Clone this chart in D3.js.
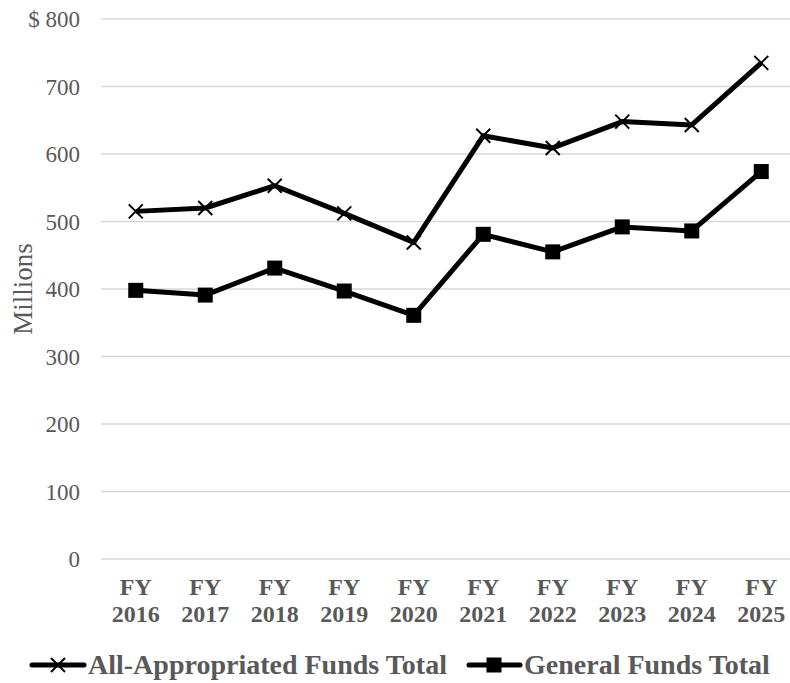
<!DOCTYPE html>
<html>
<head>
<meta charset="utf-8">
<script src="https://cdn.jsdelivr.net/npm/d3@7"></script>
<style>
body { margin: 0; background: #fff; }
text { font-family: "Liberation Serif", "Times New Roman", serif; }
</style>
</head>
<body>
<div id="chart"></div>
<script>
// chart data
var years = ["2016", "2017", "2018", "2019", "2020", "2021", "2022", "2023", "2024", "2025"];
var allFunds = [515, 520, 553, 512, 469, 627, 609, 648, 643, 735];
var generalFunds = [398, 391, 431, 397, 361, 481, 455, 492, 486, 574];
var yTicks = [0, 100, 200, 300, 400, 500, 600, 700, 800];

var width = 790, height = 683;
var plotLeft = 101, plotRight = 796, plotTop = 19, plotBottom = 559;

var svg = d3.select("#chart").append("svg")
	.attr("width", width)
	.attr("height", height);

var x = d3.scaleBand()
	.domain(years)
	.range([plotLeft, plotRight]);

var y = d3.scaleLinear()
	.domain([0, 800])
	.range([plotBottom, plotTop]);

// gridlines
svg.selectAll(".grid")
	.data(yTicks)
	.enter()
	.append("line")
	.attr("x1", plotLeft)
	.attr("x2", width)
	.attr("y1", function(d) { return y(d); })
	.attr("y2", function(d) { return y(d); })
	.attr("stroke", "#d9d9d9")
	.attr("stroke-width", 1.5);

// y labels
svg.selectAll(".ylab")
	.data(yTicks)
	.enter()
	.append("text")
	.attr("x", 80)
	.attr("y", function(d) { return y(d) + 8; })
	.attr("text-anchor", "end")
	.attr("fill", "#595959")
	.style("font-size", "23px")
	.text(function(d) { return d == 800 ? "$ 800" : d; });

svg.append("text")
	.attr("transform", "translate(32,289) rotate(-90)")
	.attr("text-anchor", "middle")
	.attr("fill", "#595959")
	.style("font-size", "27px")
	.text("Millions");

// x labels
var xl = svg.selectAll(".xlab")
	.data(years)
	.enter()
	.append("text")
	.attr("text-anchor", "middle")
	.attr("fill", "#595959")
	.style("font-size", "24px")
	.style("font-weight", "bold");
xl.append("tspan")
	.attr("x", function(d) { return x(d) + x.bandwidth() / 2; })
	.attr("y", 595)
	.text("FY");
xl.append("tspan")
	.attr("x", function(d) { return x(d) + x.bandwidth() / 2; })
	.attr("y", 622)
	.text(function(d) { return d; });

var cx = function(d, i) { return x(years[i]) + x.bandwidth() / 2; };

var line = d3.line()
	.x(cx)
	.y(function(d) { return y(d); });

function drawX(g, px, py) {
	g.append("path")
		.attr("d", "M" + (px - 7) + "," + (py - 7) + "L" + (px + 7) + "," + (py + 7) +
			"M" + (px - 7) + "," + (py + 7) + "L" + (px + 7) + "," + (py - 7))
		.attr("stroke", "#000")
		.attr("stroke-width", 2);
}

function drawSquare(g, px, py) {
	g.append("rect")
		.attr("x", px - 7.5)
		.attr("y", py - 7.5)
		.attr("width", 15)
		.attr("height", 15)
		.attr("fill", "#000");
}

// All-appropriated line
svg.append("path")
	.datum(allFunds)
	.attr("d", line)
	.attr("fill", "none")
	.attr("stroke", "#000")
	.attr("stroke-width", 5)
	.attr("stroke-linejoin", "round");
allFunds.forEach(function(d, i) { drawX(svg, cx(d, i), y(d)); });

// General funds line
svg.append("path")
	.datum(generalFunds)
	.attr("d", line)
	.attr("fill", "none")
	.attr("stroke", "#000")
	.attr("stroke-width", 5)
	.attr("stroke-linejoin", "round");
generalFunds.forEach(function(d, i) { drawSquare(svg, cx(d, i), y(d)); });

// legend
var ly = 665;
svg.append("line")
	.attr("x1", 32).attr("x2", 84).attr("y1", ly).attr("y2", ly)
	.attr("stroke", "#000").attr("stroke-width", 5).attr("stroke-linecap", "round");
drawX(svg, 58, ly);
svg.append("text")
	.attr("x", 88).attr("y", ly + 9)
	.attr("fill", "#595959")
	.style("font-size", "28px")
	.style("font-weight", "bold")
	.text("All-Appropriated Funds Total");

svg.append("line")
	.attr("x1", 469).attr("x2", 520).attr("y1", ly).attr("y2", ly)
	.attr("stroke", "#000").attr("stroke-width", 5).attr("stroke-linecap", "round");
drawSquare(svg, 494, ly);
svg.append("text")
	.attr("x", 524).attr("y", ly + 9)
	.attr("fill", "#595959")
	.style("font-size", "28px")
	.style("font-weight", "bold")
	.text("General Funds Total");
</script>
</body>
</html>
